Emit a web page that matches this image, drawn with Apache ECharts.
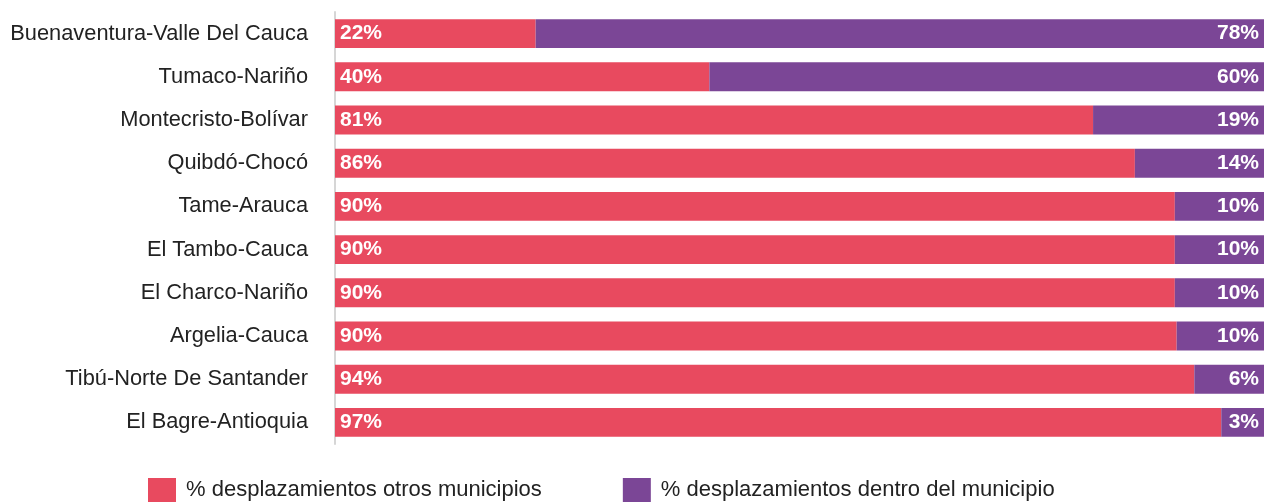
<!DOCTYPE html>
<html>
<head>
    <meta charset="utf-8">
    <title>Desplazamientos</title>
    <script src="https://cdn.jsdelivr.net/npm/echarts@6/dist/echarts.min.js"></script>
</head>
<body style="margin:0">
    <div id="main" style="width:1264px;height:502px;"></div>
    <script type="text/javascript">
        // municipios, de arriba hacia abajo
        var municipios = ['Buenaventura-Valle Del Cauca', 'Tumaco-Nariño', 'Montecristo-Bolívar', 'Quibdó-Chocó',
            'Tame-Arauca', 'El Tambo-Cauca', 'El Charco-Nariño', 'Argelia-Cauca', 'Tibú-Norte De Santander', 'El Bagre-Antioquia'];
        // largo de cada tramo (en %)
        var otros = [21.6, 40.3, 81.6, 86.1, 90.4, 90.4, 90.4, 90.6, 92.5, 95.4];
        var dentro = [78.4, 59.7, 18.4, 13.9, 9.6, 9.6, 9.6, 9.4, 7.5, 4.6];
        // etiquetas tal como aparecen
        var etiquetasOtros = ['22%', '40%', '81%', '86%', '90%', '90%', '90%', '90%', '94%', '97%'];
        var etiquetasDentro = ['78%', '60%', '19%', '14%', '10%', '10%', '10%', '10%', '6%', '3%'];

        var fuente = '"Liberation Sans", Arial, Helvetica, sans-serif';
        var myChart = echarts.init(document.getElementById('main'));
        myChart.setOption({
            animation: false,
            textStyle: { fontFamily: fuente },
            grid: { left: 335, right: 0, top: 12, bottom: 58 },
            legend: {
                left: 143,
                top: 473,
                itemWidth: 28,
                itemHeight: 24,
                itemGap: 81,
                itemTextGap: 6,
                icon: 'rect',
                textStyle: { fontSize: 22, color: '#222', fontFamily: fuente, padding: [4, 0, 0, 5] },
                data: ['% desplazamientos otros municipios', '% desplazamientos dentro del municipio']
            },
            xAxis: {
                type: 'value', min: 0, max: 100,
                show: false
            },
            yAxis: {
                type: 'category',
                inverse: true,
                data: municipios,
                axisLine: { show: true, lineStyle: { color: '#d6d6d6', width: 2 } },
                axisTick: { show: false },
                axisLabel: { fontSize: 21.8, color: '#222', margin: 27, fontFamily: fuente }
            },
            series: [
                {
                    name: '% desplazamientos otros municipios',
                    type: 'bar',
                    stack: 'total',
                    barCategoryGap: '33%',
                    itemStyle: { color: '#E84A5F' },
                    label: {
                        show: true, position: 'insideLeft', distance: 5,
                        color: '#fff', fontWeight: 'bold', fontSize: 21, fontFamily: fuente,
                        formatter: function (p) { return etiquetasOtros[p.dataIndex]; }
                    },
                    data: otros
                },
                {
                    name: '% desplazamientos dentro del municipio',
                    type: 'bar',
                    stack: 'total',
                    itemStyle: { color: '#7B4696' },
                    label: {
                        show: true, position: 'insideRight', distance: 5,
                        color: '#fff', fontWeight: 'bold', fontSize: 21, fontFamily: fuente,
                        formatter: function (p) { return etiquetasDentro[p.dataIndex]; }
                    },
                    data: dentro
                }
            ]
        });
    </script>
</body>
</html>
